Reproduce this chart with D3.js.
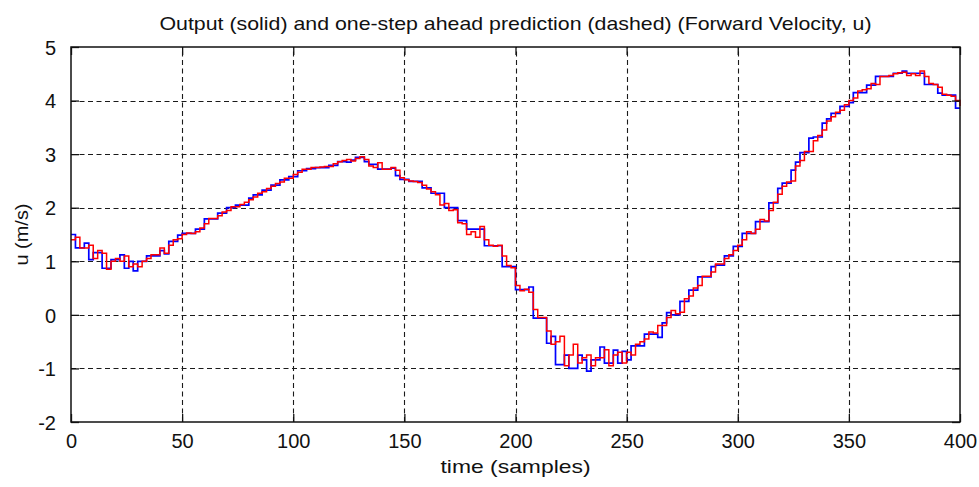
<!DOCTYPE html>
<html>
<head>
<meta charset="utf-8">
<script src="https://cdn.jsdelivr.net/npm/d3@7"></script>
<style>
  html, body { margin: 0; padding: 0; background: #ffffff; }
  svg { display: block; }
  text { font-family: "Liberation Sans", Arial, Helvetica, sans-serif; fill: #111; }
</style>
</head>
<body>
<svg id="chart" width="979" height="487"></svg>
<script>
// ---------- data ----------
const titleText = "Output (solid) and one-step ahead prediction (dashed) (Forward Velocity, u)";
const xLabel = "time (samples)";
const yLabel = "u (m/s)";
const xTicks = [0, 50, 100, 150, 200, 250, 300, 350, 400];
const yTicks = [-2, -1, 0, 1, 2, 3, 4, 5];
// samples 0, 2, 4, ... 400
const samples = d3.range(0, 401, 2);

// measured output (solid, blue)
const outputU = [
  1.5, 1.25, 1.25, 1.34, 1.03, 1.16, 1.16, 0.87, 0.87, 1.03,
  1.03, 1.12, 0.87, 1.0, 0.82, 1.0, 1.0, 1.1, 1.1, 1.1,
  1.2, 1.14, 1.37, 1.37, 1.49, 1.52, 1.52, 1.52, 1.6, 1.6,
  1.79, 1.79, 1.79, 1.9, 1.9, 2.0, 2.0, 2.05, 2.05, 2.05,
  2.18, 2.24, 2.24, 2.33, 2.33, 2.42, 2.42, 2.52, 2.52, 2.58,
  2.58, 2.69, 2.69, 2.73, 2.73, 2.75, 2.75, 2.75, 2.79, 2.79,
  2.86, 2.86, 2.85, 2.89, 2.94, 2.94, 2.86, 2.81, 2.81, 2.72,
  2.72, 2.72, 2.74, 2.6, 2.53, 2.53, 2.49, 2.49, 2.49, 2.37,
  2.37, 2.27, 2.27, 2.27, 2.0, 2.0, 2.0, 1.76, 1.76, 1.6,
  1.6, 1.6, 1.6, 1.29, 1.29, 1.29, 1.29, 0.9, 0.9, 0.9,
  0.47, 0.47, 0.47, 0.52, -0.06, -0.06, -0.06, -0.53, -0.4, -0.93,
  -0.93, -0.75, -1.0, -1.0, -0.75, -0.84, -1.05, -0.84, -0.84, -0.6,
  -0.9, -0.9, -0.66, -0.9, -0.68, -0.84, -0.58, -0.58, -0.58, -0.36,
  -0.36, -0.36, -0.42, -0.15, 0.04, 0.0, 0.0, 0.25, 0.25, 0.46,
  0.46, 0.71, 0.71, 0.71, 0.9, 0.93, 0.93, 1.1, 1.1, 1.28,
  1.28, 1.52, 1.52, 1.52, 1.74, 1.74, 1.74, 2.09, 2.09, 2.36,
  2.46, 2.46, 2.7, 2.85, 3.03, 3.03, 3.3, 3.32, 3.32, 3.58,
  3.66, 3.76, 3.76, 3.89, 3.89, 3.96, 4.15, 4.15, 4.15, 4.29,
  4.29, 4.45, 4.45, 4.45, 4.45, 4.51, 4.51, 4.55, 4.51, 4.51,
  4.51, 4.51, 4.3, 4.3, 4.3, 4.14, 4.1, 4.1, 4.1, 3.86,
  3.86
];

// one-step ahead prediction (dashed, red)
const predictionU = [
  1.4, 1.45, 1.25, 1.25, 1.3, 1.05, 1.2, 1.15, 0.85, 1.0,
  1.05, 1.0, 1.1, 0.9, 0.95, 0.9, 1.0, 1.05, 1.12, 1.12,
  1.25, 1.15, 1.3, 1.4, 1.42, 1.5, 1.53, 1.52, 1.55, 1.62,
  1.7, 1.8, 1.8, 1.85, 1.92, 1.95, 2.02, 2.02, 2.06, 2.1,
  2.15, 2.2, 2.27, 2.3, 2.36, 2.4, 2.45, 2.48, 2.55, 2.55,
  2.62, 2.66, 2.72, 2.72, 2.75, 2.75, 2.76, 2.77, 2.77, 2.82,
  2.86, 2.88, 2.9, 2.87, 2.92, 2.95, 2.9, 2.78, 2.75, 2.84,
  2.72, 2.72, 2.75, 2.7, 2.56, 2.52, 2.5, 2.49, 2.47, 2.42,
  2.35, 2.3, 2.24, 2.05, 2.08, 1.95, 1.96, 1.72, 1.7, 1.5,
  1.55, 1.45, 1.65, 1.4, 1.3, 1.28, 1.3, 1.1, 0.92, 0.88,
  0.55, 0.45, 0.48, 0.42, 0.1, -0.05, -0.05, -0.3, -0.55, -0.5,
  -0.4, -0.95, -0.75, -0.55, -0.9, -0.8, -0.75, -0.95, -0.8, -0.8,
  -0.65, -0.95, -0.75, -0.7, -0.9, -0.7, -0.75, -0.55, -0.5, -0.45,
  -0.32, -0.34, -0.2, -0.2, -0.05, 0.08, 0.02, 0.05, 0.3, 0.35,
  0.5, 0.55, 0.72, 0.72, 0.8, 0.95, 0.95, 1.05, 1.12, 1.2,
  1.3, 1.4, 1.55, 1.52, 1.6, 1.78, 1.75, 1.95, 2.1, 2.25,
  2.4, 2.48, 2.5, 2.78, 2.88, 3.05, 3.05, 3.25, 3.35, 3.45,
  3.62, 3.7, 3.78, 3.82, 3.92, 4.0, 4.05, 4.18, 4.2, 4.22,
  4.32, 4.3, 4.45, 4.45, 4.47, 4.5, 4.52, 4.53, 4.47, 4.5,
  4.47, 4.55, 4.45, 4.32, 4.3, 4.25, 4.12, 4.1, 4.08, 4.0,
  3.9
];

// ---------- layout ----------
const svg = d3.select("#chart");
const plotLeft = 71, plotRight = 960, plotTop = 47, plotBottom = 422;

const x = d3.scaleLinear().domain([0, 400]).range([plotLeft, plotRight]);
const y = d3.scaleLinear().domain([-2, 5]).range([plotBottom, plotTop]);

svg.append("rect").attr("x", 0).attr("y", 0).attr("width", 979).attr("height", 487).attr("fill", "#ffffff");

// grid
const grid = svg.append("g").attr("stroke", "#1a1a1a").attr("stroke-width", 1.1)
  .attr("stroke-dasharray", "5,3.5").attr("fill", "none");
xTicks.slice(1, -1).forEach(t => {
  grid.append("line").attr("x1", Math.round(x(t)) + 0.5).attr("x2", Math.round(x(t)) + 0.5)
    .attr("y1", plotBottom).attr("y2", plotTop);
});
yTicks.slice(1, -1).forEach(t => {
  grid.append("line").attr("y1", Math.round(y(t)) + 0.5).attr("y2", Math.round(y(t)) + 0.5)
    .attr("x1", plotLeft).attr("x2", plotRight);
});

// series lines
const pairsOut = samples.map((s, i) => [s, outputU[i]]).filter(d => d[1] !== undefined);
const pairsPred = samples.map((s, i) => [s, predictionU[i]]).filter(d => d[1] !== undefined);
const line = d3.line().x(d => x(d[0])).y(d => y(d[1])).curve(d3.curveStepAfter);

svg.append("path").datum(pairsOut).attr("d", line)
  .attr("fill", "none").attr("stroke", "#0000ff").attr("stroke-width", 1.7).attr("stroke-linejoin", "miter");
svg.append("path").datum(pairsPred).attr("d", line)
  .attr("fill", "none").attr("stroke", "#ff0000").attr("stroke-width", 1.5).attr("stroke-linejoin", "miter");

// axes (ticks inward, MATLAB style)
const tickLen = 8;
const fmt = d => String(d);
const axB = svg.append("g").attr("transform", `translate(0,${plotBottom})`)
  .call(d3.axisBottom(x).tickValues(xTicks).tickFormat(fmt).tickSize(-tickLen).tickPadding(tickLen + 4).tickSizeOuter(0));
const axT = svg.append("g").attr("transform", `translate(0,${plotTop})`)
  .call(d3.axisTop(x).tickValues(xTicks).tickSize(-tickLen).tickFormat("").tickSizeOuter(0));
const axL = svg.append("g").attr("transform", `translate(${plotLeft},0)`)
  .call(d3.axisLeft(y).tickValues(yTicks).tickFormat(fmt).tickSize(-tickLen).tickPadding(tickLen + 7).tickSizeOuter(0));
const axR = svg.append("g").attr("transform", `translate(${plotRight},0)`)
  .call(d3.axisRight(y).tickValues(yTicks).tickSize(-tickLen).tickFormat("").tickSizeOuter(0));

[axB, axT, axL, axR].forEach(g => {
  g.select(".domain").remove();
  g.selectAll(".tick line").attr("stroke", "#111").attr("stroke-width", 1.3);
});
axB.selectAll(".tick text").attr("font-size", 20).attr("fill", "#111")
  .attr("font-family", '"Liberation Sans", Arial, sans-serif').attr("dy", "0.71em");
axL.selectAll(".tick text").attr("font-size", 20).attr("fill", "#111")
  .attr("font-family", '"Liberation Sans", Arial, sans-serif').attr("dy", "0.36em");

// box
svg.append("rect").attr("x", plotLeft).attr("y", plotTop).attr("width", plotRight - plotLeft).attr("height", plotBottom - plotTop)
  .attr("fill", "none").attr("stroke", "#111").attr("stroke-width", 1.5);

// title and labels
svg.append("text").attr("x", (plotLeft + plotRight) / 2).attr("y", 30).attr("text-anchor", "middle")
  .attr("font-size", 19).attr("textLength", 712).attr("lengthAdjust", "spacingAndGlyphs")
  .text(titleText);
svg.append("text").attr("x", (plotLeft + plotRight) / 2).attr("y", 473).attr("text-anchor", "middle")
  .attr("font-size", 19).attr("textLength", 150).attr("lengthAdjust", "spacingAndGlyphs")
  .text(xLabel);
svg.append("text").attr("transform", `translate(28,${(plotTop + plotBottom) / 2}) rotate(-90)`)
  .attr("text-anchor", "middle").attr("font-size", 19).attr("textLength", 62).attr("lengthAdjust", "spacingAndGlyphs")
  .text(yLabel);
</script>
</body>
</html>
